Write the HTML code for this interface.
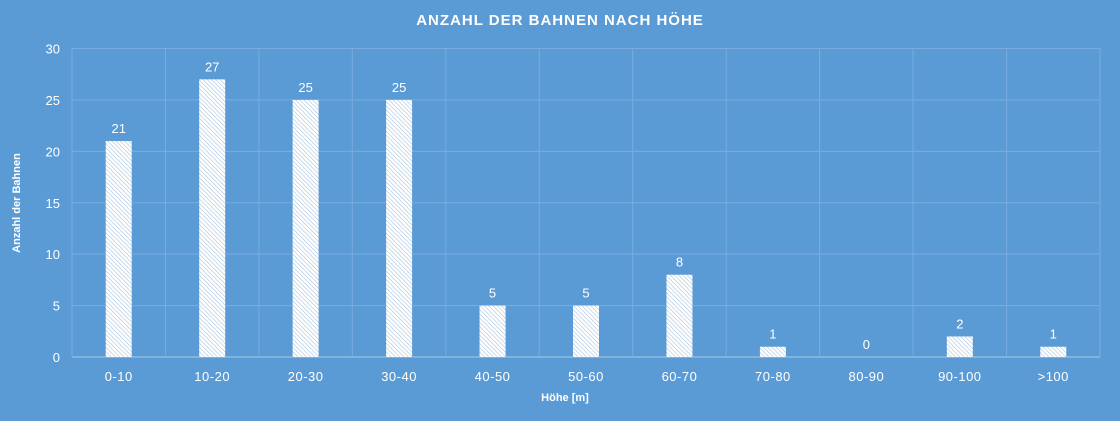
<!DOCTYPE html>
<html><head><meta charset="utf-8"><style>
html,body{margin:0;padding:0;background:#5b9bd5;}
svg{display:block;font-family:"Liberation Sans",sans-serif;}
</style></head><body>
<svg id="chart" width="1120" height="421" viewBox="0 0 1120 421">
<defs>
<pattern id="hatch" patternUnits="userSpaceOnUse" width="3" height="3" patternTransform="rotate(-45)">
<rect width="3" height="3" fill="#ffffff"/>
<line x1="0" y1="0" x2="0" y2="3" stroke="#a9c3dc" stroke-width="1.2"/>
</pattern>
</defs>
<rect width="1120" height="421" fill="#5b9bd5"/>
<text x="560" y="25" text-anchor="middle" fill="#ffffff" font-size="15" font-weight="bold" letter-spacing="1">ANZAHL DER BAHNEN NACH HÖHE</text>
<g id="grid"></g>
<g id="bars"></g>
<g id="labels"></g>
<g id="yticks"></g>
<g id="xticks"></g>
<text x="565" y="401" text-anchor="middle" fill="#ffffff" font-size="11" font-weight="bold">Höhe [m]</text>
<text transform="translate(20,203) rotate(-90)" text-anchor="middle" fill="#ffffff" font-size="11" font-weight="bold">Anzahl der Bahnen</text>
</svg>
<script>
const categories = ["0-10","10-20","20-30","30-40","40-50","50-60","60-70","70-80","80-90","90-100",">100"];
const values = [21,27,25,25,5,5,8,1,0,2,1];
const yTicks = [0,5,10,15,20,25,30];
const NS="http://www.w3.org/2000/svg";
const L=72,R=1100,T=48.5,B=357,YMAX=30;
const step=(R-L)/categories.length;
const x=i=>L+step*i;
const y=v=>B-(v/YMAX)*(B-T);
function mk(tag,attrs,parent){const e=document.createElementNS(NS,tag);for(const k in attrs)e.setAttribute(k,attrs[k]);parent.appendChild(e);return e;}
const grid=document.getElementById('grid'),bars=document.getElementById('bars'),labels=document.getElementById('labels'),yt=document.getElementById('yticks'),xt=document.getElementById('xticks');
yTicks.forEach(t=>{
  const ln=mk('line',{x1:L,x2:R,y1:y(t),y2:y(t),stroke:t===0?'#a8c8e8':'#78ace0','stroke-width':1},grid);
  
  
  const tx=mk('text',{x:60,y:y(t)+5,'text-anchor':'end',fill:'#ffffff','font-size':13},yt);
  tx.textContent=t;
  
  
});
for(let i=0;i<=categories.length;i++){
  const ln=mk('line',{x1:x(i),x2:x(i),y1:T,y2:B,stroke:'#78ace0','stroke-width':1},grid);
  
  
}
const bw=26;
categories.forEach((c,i)=>{
  const cx=x(i)+step/2,v=values[i];
  if(v>0){
    const r=mk('rect',{x:cx-bw/2,y:y(v),width:bw,height:B-y(v),fill:'url(#hatch)'},bars);
    
    
  }
  const lb=mk('text',{x:cx,y:y(v)-8,'text-anchor':'middle',fill:'#ffffff','font-size':13},labels);
  lb.textContent=v;
  
  
  const xl=mk('text',{x:cx,y:381,'text-anchor':'middle',fill:'#ffffff','font-size':13,'letter-spacing':'0.5'},xt);
  xl.textContent=c;
  
  
});
</script>
</body></html>
